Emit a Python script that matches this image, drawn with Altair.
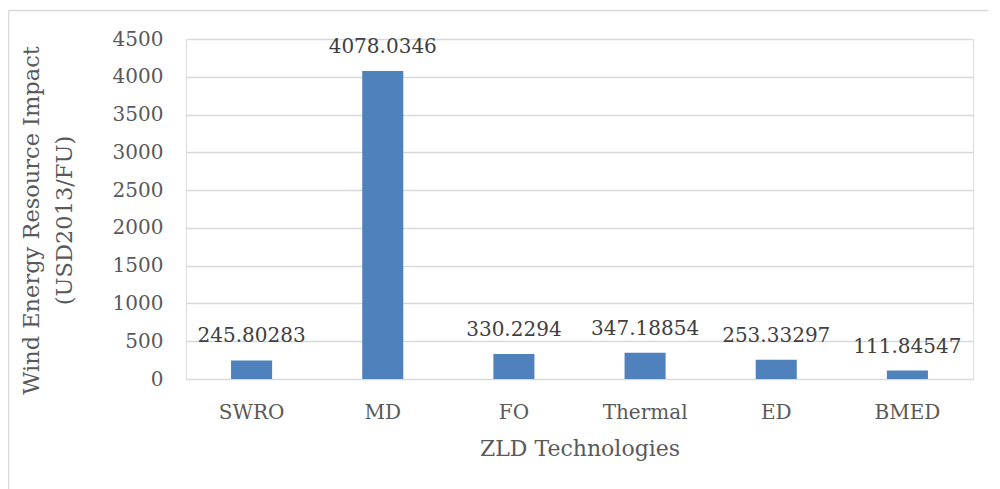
import altair as alt
import pandas as pd

categories = ["SWRO", "MD", "FO", "Thermal", "ED", "BMED"]
values = [245.80283, 4078.0346, 330.2294, 347.18854, 253.33297, 111.84547]
value_labels = ["245.80283", "4078.0346", "330.2294", "347.18854", "253.33297", "111.84547"]
y_ticks = [0, 500, 1000, 1500, 2000, 2500, 3000, 3500, 4000, 4500]

df = pd.DataFrame({"tech": categories, "impact": values, "label": value_labels})

FONT = "DejaVu Serif"
TEXT = "#595959"

x_enc = alt.X(
    "tech:N",
    sort=categories,
    scale=alt.Scale(paddingInner=0.687, paddingOuter=0.3435),
    axis=alt.Axis(
        title="ZLD Technologies",
        labelAngle=0,
        domain=False,
        ticks=False,
        tickSize=0,
        grid=False,
        labelPadding=39,
        labelBaseline="alphabetic",
        labelFont=FONT,
        labelFontSize=20,
        labelColor=TEXT,
        titleFont=FONT,
        titleFontSize=22,
        titleFontWeight="normal",
        titleColor=TEXT,
        titleBaseline="alphabetic",
        titleY=76,
    ),
)
y_enc = alt.Y(
    "impact:Q",
    scale=alt.Scale(domain=[0, 4500], nice=False),
    axis=alt.Axis(
        title=["Wind Energy Resource Impact", "(USD2013/FU)"],
        values=y_ticks,
        format="d",
        labelOverlap=False,
        domain=False,
        ticks=False,
        tickSize=0,
        grid=True,
        gridColor="#d9d9d9",
        gridWidth=1.3,
        labelPadding=23,
        labelFont=FONT,
        labelFontSize=20,
        labelColor=TEXT,
        titleFont=FONT,
        titleFontSize=22.5,
        titleFontWeight="normal",
        titleColor=TEXT,
        titleAngle=-90,
        titleAlign="center",
        titleBaseline="alphabetic",
        titleLineHeight=33,
        titleX=-148,
        titleY=181,
    ),
)

base = alt.Chart(df).encode(x=x_enc, y=y_enc)
bars = base.mark_bar(color="#4f81bd")
labels = base.mark_text(
    font=FONT, fontSize=20, color="#404040", baseline="alphabetic", dy=-18
).encode(text="label:N")

one = pd.DataFrame({"k": [0]})
frame_left = alt.Chart(one).mark_rule(color="#d9d9d9", strokeWidth=1.5).encode(
    x=alt.value(-177.5), y=alt.value(-28.5), y2=alt.value(700)
)
frame_top = alt.Chart(one).mark_rule(color="#d9d9d9", strokeWidth=1.5).encode(
    x=alt.value(-177.5), x2=alt.value(1200), y=alt.value(-28.5)
)

chart = alt.layer(frame_left, frame_top, bars, labels).properties(
    width=787,
    height=340,
    autosize=alt.AutoSizeParams(type="none"),
    padding={"left": 178, "top": 31, "right": 15, "bottom": 110},
).configure_view(stroke=None).configure(background="white")

chart.save("out.html", embed_options={"renderer": "svg", "actions": False})
